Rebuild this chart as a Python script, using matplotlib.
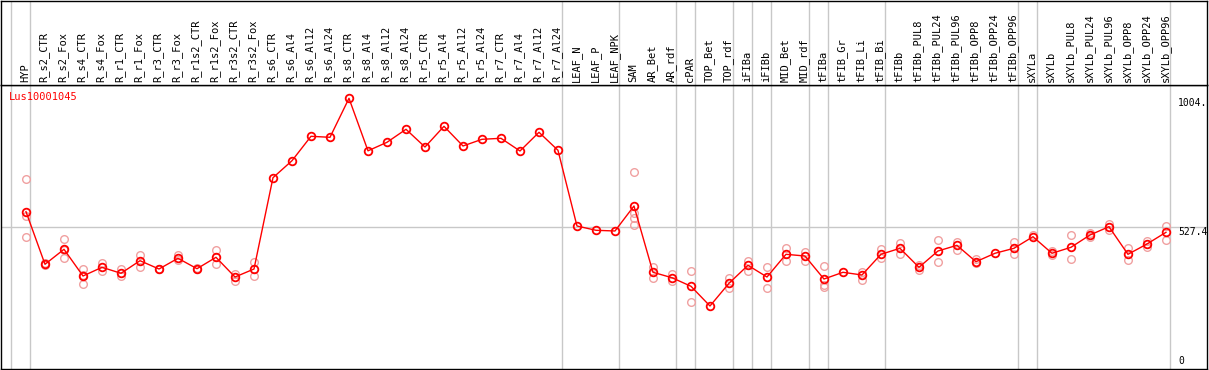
import matplotlib
matplotlib.use("Agg")
import matplotlib.pyplot as plt

# Sample names (column order)
samples = ["HYP", "R_s2_CTR", "R_s2_Fox", "R_s4_CTR", "R_s4_Fox", "R_r1_CTR", "R_r1_Fox",
           "R_r3_CTR", "R_r3_Fox", "R_r1s2_CTR", "R_r1s2_Fox", "R_r3s2_CTR", "R_r3s2_Fox",
           "R_s6_CTR", "R_s6_Al4", "R_s6_Al12", "R_s6_Al24", "R_s8_CTR", "R_s8_Al4",
           "R_s8_Al12", "R_s8_Al24", "R_r5_CTR", "R_r5_Al4", "R_r5_Al12", "R_r5_Al24",
           "R_r7_CTR", "R_r7_Al4", "R_r7_Al12", "R_r7_Al24", "LEAF_N", "LEAF_P", "LEAF_NPK",
           "SAM", "AR_Bet", "AR_rdf", "cPAR", "TOP_Bet", "TOP_rdf", "iFIBa", "iFIBb",
           "MID_Bet", "MID_rdf", "tFIBa", "tFIB_Gr", "tFIB_Li", "tFIB_Bi", "tFIBb",
           "tFIBb_PUL8", "tFIBb_PUL24", "tFIBb_PUL96", "tFIBb_OPP8", "tFIBb_OPP24",
           "tFIBb_OPP96", "sXYLa", "sXYLb", "sXYLb_PUL8", "sXYLb_PUL24", "sXYLb_PUL96",
           "sXYLb_OPP8", "sXYLb_OPP24", "sXYLb_OPP96"]

# Mean expression per sample
means = [583.5, 388.4, 444.0, 345.0, 377.2, 355.0, 401.7, 370.9, 410.6, 372.0, 414.3,
         341.2, 370.9, 709.6, 772.6, 863.1, 859.4, 1004.0, 809.3, 840.9, 889.1, 823.4,
         900.2, 827.2, 852.0, 855.7, 808.6, 878.0, 811.2, 530.4, 514.5, 511.9, 604.6,
         358.7, 338.6, 306.8, 233.7, 317.9, 384.6, 341.2, 425.4, 419.1, 333.8, 358.7,
         348.7, 425.4, 447.7, 377.2, 437.7, 458.8, 398.0, 429.2, 447.7, 490.7, 429.2,
         451.4, 497.0, 527.8, 425.4, 463.6, 507.0]

# Replicate values (only those visible apart from the mean)
replicates = [[703.6, 568.6, 488.5], [392.0, 386.0], [481.1, 441.0, 410.6],
              [370.9, 350.0, 314.2], [394.3, 364.6], [369.8, 345.0], [422.8, 379.5],
              [370.0, 372.0], [421.7, 404.3], [370.0, 374.0], [441.4, 388.4],
              [352.4, 326.4], [396.9, 346.1],
              [], [], [], [], [], [], [], [], [], [], [], [], [], [], [], [], [], [], [],
              [729.6, 577.5, 561.2, 534.1], [379.5, 336.4], [352.4, 326.4],
              [363.5, 247.4], [], [338.6, 301.6], [401.7, 364.6], [378.3, 299.3],
              [448.8, 399.5], [435.1, 399.5], [380.9, 312.7, 305.3], [], [358.7, 330.1],
              [444.0, 412.8], [468.5, 425.4], [385.8, 367.2], [477.4, 396.9],
              [472.2, 440.3], [406.9, 392.1], [], [471.1, 426.6], [498.1],
              [437.7, 422.8], [497.0, 409.1], [503.3, 488.5], [536.7, 515.6],
              [447.7, 404.3], [475.9, 451.4], [530.4, 479.6]]

# Group separators (after these column indices, 0 = left edge)
separators = [0, 1, 29, 32, 35, 36, 38, 39, 40, 42, 43, 46, 53, 54, 61]

gene = "Lus10001045"
mid_value = 527.4
max_value = 1004.0

W, H = 1209, 370
fig = plt.figure(figsize=(W / 100, H / 100), dpi=100)
ax = fig.add_axes([1 / W, 1 / H, 1206 / W, 284 / H])
hdr = fig.add_axes([1 / W, 285 / H, 1206 / W, 84 / H], sharex=ax)

xs = list(range(1, len(samples) + 1))
ax.set_xlim(-6 / 19, 63.16)
ax.set_ylim(0, 1053.4)
hdr.set_ylim(0, 1)

grid_c = "#c8c8c8"
for s in separators:
    ax.axvline(s + 4 / 19, color=grid_c, lw=1, zorder=1)
    hdr.axvline(s + 4 / 19, color=grid_c, lw=1, zorder=1)
ax.axhline(mid_value, color=grid_c, lw=1, zorder=1)

# replicate points
for x, reps in zip(xs, replicates):
    ax.plot([x] * len(reps), reps, "o", ms=5.5, mfc="none", mec="#f0a0a0",
            mew=1, zorder=2)

# mean line
ax.plot(xs, means, "-", color="red", lw=1, zorder=3)
ax.plot(xs, means, "o", ms=5.5, mfc="none", mec="red", mew=1.3, zorder=4)

# header labels
for x, name in zip(xs, samples):
    hdr.text(x - 1 / 19, 3 / 84, name, rotation=90, ha="center", va="bottom",
             fontsize=7.5, family="DejaVu Sans Mono", color="black")

# value labels on the right
lx = 1177 / 1206
ax.text(lx, max_value, "1004.", transform=ax.get_yaxis_transform(), ha="left",
        va="top", fontsize=7, family="DejaVu Sans Mono")
ax.text(lx, mid_value - 2, "527.4", transform=ax.get_yaxis_transform(), ha="left",
        va="top", fontsize=7, family="DejaVu Sans Mono")
ax.text(lx, 10, "0", transform=ax.get_yaxis_transform(), ha="left",
        va="bottom", fontsize=7, family="DejaVu Sans Mono")

ax.text(8 / 1206, (369 - 92) / 284, gene, transform=ax.transAxes, ha="left",
        va="top", color="red", fontsize=7.5, family="DejaVu Sans Mono")

for a in (ax, hdr):
    a.set_xticks([])
    a.set_yticks([])
    for sp in a.spines.values():
        sp.set_color("black")
        sp.set_linewidth(1)

fig.savefig("out.png", dpi=100)
